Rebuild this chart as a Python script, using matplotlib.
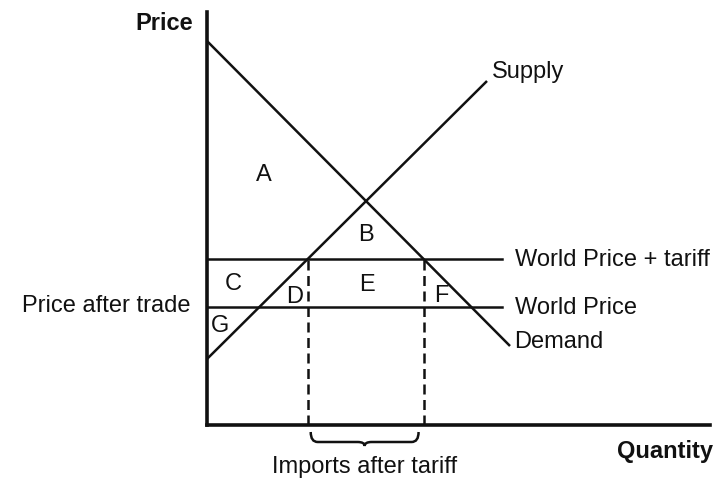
import numpy as np
import matplotlib
matplotlib.use("Agg")
import matplotlib.pyplot as plt
from matplotlib.path import Path
from matplotlib.patches import PathPatch

# chart units: quantity and price (arbitrary scale)
demand_q = [0, 303]
demand_p = [384, 79]
supply_q = [0, 280]
supply_p = [66, 344]
world_price = 118
tariff_price = 166
price_line_end = 295

curve_labels = ["Supply", "World Price + tariff", "World Price", "Demand"]
area_labels = ["A", "B", "C", "D", "E", "F", "G"]
area_q = [57, 159, 26, 88, 160, 234, 13]
area_p = [251, 191, 142, 129, 141, 130, 100]

plt.rcParams['font.family'] = ['Liberation Sans', 'DejaVu Sans']
INK = "#111111"

fig = plt.figure(figsize=(7.18, 4.81), dpi=100)
ax = fig.add_axes([207 / 718, 55 / 481, 503 / 718, 413 / 481])
ax.set_xlim(0, 503)
ax.set_ylim(0, 413)
for side in ["top", "right"]:
    ax.spines[side].set_visible(False)
for side in ["left", "bottom"]:
    ax.spines[side].set_linewidth(2.6)
    ax.spines[side].set_color(INK)
ax.set_xticks([])
ax.set_yticks([])

lw = 1.8
ax.plot(demand_q, demand_p, color=INK, lw=lw, solid_capstyle="butt")
ax.plot(supply_q, supply_p, color=INK, lw=lw, solid_capstyle="butt")
ax.plot([0, price_line_end], [tariff_price, tariff_price], color=INK, lw=lw)
ax.plot([0, price_line_end], [world_price, world_price], color=INK, lw=lw)

# quantities supplied / demanded at the tariff price
q_supplied = np.interp(tariff_price, supply_p, supply_q)
q_demanded = np.interp(tariff_price, demand_p[::-1], demand_q[::-1])
for q in [q_supplied, q_demanded]:
    ax.plot([q, q], [0, tariff_price], color=INK, lw=1.8, linestyle=(0, (4, 2.2)))

# brace under the imports
x0, x1 = q_supplied + 3, q_demanded - 5
xc = (x0 + x1) / 2
top, mid, bot = -7, -17, -21
r = 7
verts = [(x0, top), (x0, mid), (x0 + r, mid),
         (xc - r, mid), (xc, mid), (xc, bot),
         (xc, mid), (xc + r, mid),
         (x1 - r, mid), (x1, mid), (x1, top)]
codes = [Path.MOVETO, Path.CURVE3, Path.CURVE3,
         Path.LINETO, Path.CURVE3, Path.CURVE3,
         Path.CURVE3, Path.CURVE3,
         Path.LINETO, Path.CURVE3, Path.CURVE3]
ax.add_patch(PathPatch(Path(verts, codes), facecolor="none", edgecolor=INK,
                       lw=1.8, clip_on=False))

fs = 17
ax.text(supply_q[1] + 5, supply_p[1] + 10, curve_labels[0], fontsize=fs,
        color=INK, ha="left", va="center")
ax.text(price_line_end + 13, tariff_price, curve_labels[1], fontsize=fs,
        color=INK, ha="left", va="center")
ax.text(price_line_end + 13, world_price, curve_labels[2], fontsize=fs,
        color=INK, ha="left", va="center")
ax.text(demand_q[1] + 4, demand_p[1] + 5, curve_labels[3], fontsize=fs,
        color=INK, ha="left", va="center")

for lab, q, p in zip(area_labels, area_q, area_p):
    ax.text(q, p, lab, fontsize=fs, color=INK, ha="center", va="center")

ax.text(-16, world_price + 2, "Price after trade", fontsize=fs, color=INK,
        ha="right", va="center")
ax.text(-14, 402, "Price", fontsize=fs, fontweight="bold", color=INK,
        ha="right", va="center")
ax.text(506, -26, "Quantity", fontsize=fs, fontweight="bold", color=INK,
        ha="right", va="center")
ax.text(xc, -41, "Imports after tariff", fontsize=fs, color=INK,
        ha="center", va="center")

fig.savefig("out.png", dpi=100)
